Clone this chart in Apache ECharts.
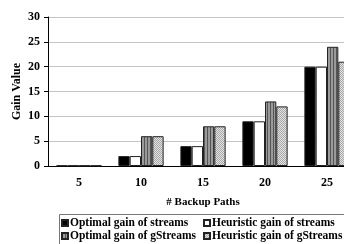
<!DOCTYPE html>
<html>
<head>
<meta charset="utf-8">
<script src="https://cdn.jsdelivr.net/npm/echarts@6/dist/echarts.min.js"></script>
<style>
  html, body { margin: 0; padding: 0; background: #fff; }
  #chart { width: 344px; height: 244px; }
</style>
</head>
<body>
<div id="chart"></div>
<script>
// data
const paths = ["5", "10", "15", "20", "25"];
const optStreams = [0.1, 2, 4, 9, 20];
const heurStreams = [0.1, 2, 4, 9, 20];
const optGStreams = [0.1, 6, 8, 13, 24];
const heurGStreams = [0.1, 6, 8, 12, 21];
const seriesNames = [
  "Optimal gain of streams",
  "Heuristic gain of streams",
  "Optimal gain of gStreams",
  "Heuristic gain of gStreams",
];

const FONT = "Liberation Serif";

// small fill patterns like the old excel hatches
function makePattern(w, h, draw) {
  const c = document.createElement("canvas");
  c.width = w;
  c.height = h;
  draw(c.getContext("2d"));
  return { image: c, repeat: "repeat" };
}
const stripes = makePattern(3, 3, (ctx) => {
  ctx.fillStyle = "#9a9a9a";
  ctx.fillRect(0, 0, 3, 3);
  ctx.fillStyle = "#555";
  ctx.fillRect(0, 0, 1, 3);
});
const dots = makePattern(2, 2, (ctx) => {
  ctx.fillStyle = "#e2e2e2";
  ctx.fillRect(0, 0, 2, 2);
  ctx.fillStyle = "#a8a8a8";
  ctx.fillRect(0, 0, 1, 1);
  ctx.fillRect(1, 1, 1, 1);
});

function bar(name, data, fill) {
  return {
    name: name,
    type: "bar",
    data: data,
    barGap: "0%",
    barCategoryGap: "27%",
    itemStyle: { color: fill, borderColor: "#222", borderWidth: 1 },
  };
}

// one legend per item so the 2x2 block sits where it should
const legendPos = [
  [61, 217],
  [203, 217],
  [61, 230],
  [203, 230],
];
const legendText = {
  fontFamily: FONT,
  fontWeight: "bold",
  fontSize: 11.5,
  color: "#000",
  padding: [0, 0, 0, -3],
};
const legends = seriesNames.map((n, i) => ({
  left: legendPos[i][0],
  top: legendPos[i][1],
  padding: 0,
  itemWidth: 6,
  itemHeight: 6,
  icon: "rect",
  data: [n],
  textStyle: legendText,
}));

const chart = echarts.init(document.getElementById("chart"));

chart.setOption({
  animation: false,
  textStyle: { fontFamily: FONT },
  grid: {
    left: 48,
    top: 17,
    width: 310,
    height: 149,
    containLabel: false,
    outerBoundsMode: "none",
  },
  legend: legends,
  graphic: [
    {
      type: "rect",
      shape: { x: 59.5, y: 214.5, width: 300, height: 40 },
      style: { fill: "none", stroke: "#777", lineWidth: 1 },
    },
  ],
  xAxis: {
    type: "category",
    data: paths,
    name: "# Backup Paths",
    nameLocation: "middle",
    nameGap: 31,
    nameMoveOverlap: false,
    nameTextStyle: { fontFamily: FONT, fontWeight: "bold", fontSize: 11, color: "#000" },
    axisLine: { lineStyle: { color: "#000" } },
    axisTick: { length: 4, lineStyle: { color: "#000" } },
    axisLabel: { fontFamily: FONT, fontWeight: "bold", fontSize: 12, color: "#000", margin: 11 },
  },
  yAxis: {
    type: "value",
    min: 0,
    max: 30,
    interval: 5,
    name: "Gain Value",
    nameLocation: "middle",
    nameRotate: 90,
    nameGap: 25,
    nameMoveOverlap: false,
    nameTextStyle: { fontFamily: FONT, fontWeight: "bold", fontSize: 12, color: "#000" },
    axisLine: { show: true, lineStyle: { color: "#000" } },
    axisTick: { show: true, length: 4, lineStyle: { color: "#000" } },
    axisLabel: { fontFamily: FONT, fontWeight: "bold", fontSize: 12, color: "#000", margin: 8 },
    splitLine: { lineStyle: { color: "#c4c4c4" } },
  },
  series: [
    bar(seriesNames[0], optStreams, "#000"),
    bar(seriesNames[1], heurStreams, "#fff"),
    bar(seriesNames[2], optGStreams, stripes),
    bar(seriesNames[3], heurGStreams, dots),
  ],
});
</script>
</body>
</html>
